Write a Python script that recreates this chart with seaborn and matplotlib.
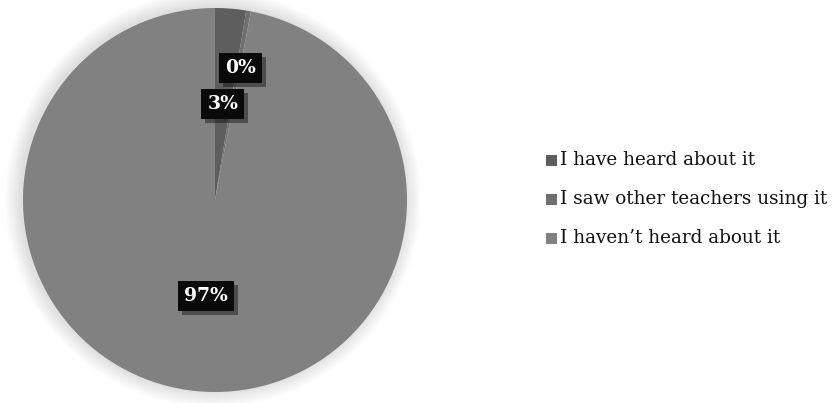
import matplotlib
matplotlib.use("Agg")
import matplotlib.pyplot as plt
import matplotlib.patheffects as pe
from matplotlib.patches import Circle, Rectangle
import seaborn as sns
import numpy as np

categories = ["I have heard about it", "I saw other teachers using it", "I haven\u2019t heard about it"]
values = [2.6, 0.4, 97.0]
colors = ["#5e5e5e", "#6f6f6f", "#818181"]

sns.set_theme(style="white")
plt.rcParams['font.family'] = ['DejaVu Serif']

W, H = 833, 403
fig = plt.figure(figsize=(W / 100, H / 100), dpi=100)
ax = fig.add_axes([0, 0, 1, 1])
ax.set_xlim(0, W)
ax.set_ylim(0, H)
ax.set_aspect('equal')
ax.axis('off')

cx, cy, R = 215, H - 200, 192

# soft glow around pie
for i in range(16):
    r = R + 16 - i
    ax.add_patch(Circle((cx - 2, cy + 1), r, color="black", alpha=0.009, lw=0, zorder=0))

wedges, texts, autotexts = ax.pie(values, colors=colors, startangle=90, counterclock=False,
                                  center=(cx, cy), radius=R, autopct=lambda p: f"{p:.0f}%",
                                  pctdistance=0.5, wedgeprops=dict(linewidth=0),
                                  textprops=dict(color="white", fontsize=13.5, fontweight="bold"))
ax.set_xlim(0, W)
ax.set_ylim(0, H)

# move the thin slice label outward
w = wedges[1]
ang = np.deg2rad((w.theta1 + w.theta2) / 2)
autotexts[1].set_position((cx + 0.70 * R * np.cos(ang) + 2, cy + 0.70 * R * np.sin(ang)))

for t in autotexts:
    t.set_bbox(dict(facecolor="#0a0a0a", edgecolor="none", boxstyle="square,pad=0.32"))
    t.get_bbox_patch().set_path_effects([pe.SimplePatchShadow(offset=(3, -3), shadow_rgbFace="black", alpha=0.4), pe.Normal()])
    t.set_zorder(5)

# legend
ys = [160, 199, 238]
for cat, col, y in zip(categories, colors, ys):
    ax.add_patch(Rectangle((546, H - y - 6), 11, 11, color=col, lw=0))
    ax.text(560, H - y, cat, fontsize=13.2, va="center", ha="left", color="#111111")

fig.savefig("out.png", dpi=100)
